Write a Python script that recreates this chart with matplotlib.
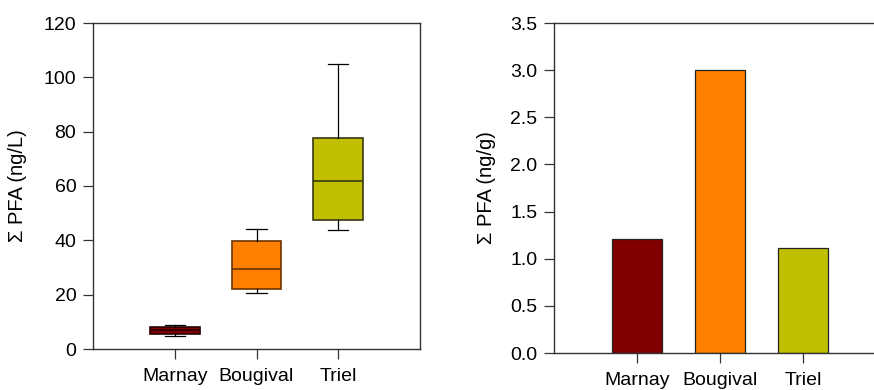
import matplotlib
matplotlib.use("Agg")
import matplotlib.pyplot as plt

plt.rcParams['font.family'] = ['Liberation Sans', 'DejaVu Sans']

sites = ["Marnay", "Bougival", "Triel"]
colors = ["#800000", "#FF8000", "#C0C000"]
edge_colors = ["#2a0000", "#6a3500", "#3a3a14"]

# box plot stats (ng/L)
whislo = [4.9, 20.5, 43.8]
q1 = [5.4, 22.0, 47.4]
med = [6.9, 29.6, 61.8]
q3 = [8.1, 39.9, 77.8]
whishi = [8.8, 44.0, 104.9]

# bar values (ng/g)
sediment = [1.21, 3.0, 1.11]

yticks_left = [0, 20, 40, 60, 80, 100, 120]
yticks_right = [0.0, 0.5, 1.0, 1.5, 2.0, 2.5, 3.0, 3.5]

W, H = 874, 390
fig = plt.figure(figsize=(W / 100, H / 100), dpi=100)

ax1 = fig.add_axes([93 / W, 1 - 349 / H, (420 - 93) / W, (349 - 23) / H])
ax2 = fig.add_axes([554 / W, 1 - 353 / H, (886 - 554) / W, (353 - 23) / H])

stats = []
for i, s in enumerate(sites):
    stats.append(dict(label=s, whislo=whislo[i], q1=q1[i], med=med[i],
                      q3=q3[i], whishi=whishi[i], fliers=[]))
pos = [1, 2, 3]
bp = ax1.bxp(stats, positions=pos, widths=0.61, patch_artist=True,
             showfliers=False,
             whiskerprops=dict(color="black", lw=0.9),
             capprops=dict(color="black", lw=0.9),
             capwidths=0.245)
for i, b in enumerate(bp['boxes']):
    b.set_facecolor(colors[i])
    b.set_edgecolor(edge_colors[i])
    b.set_linewidth(1.2)
for i, m in enumerate(bp['medians']):
    m.set_color(edge_colors[i])
    m.set_linewidth(1.2)

ax1.set_xlim(0, 4)
ax1.set_ylim(0, 120)
ax1.set_yticks(yticks_left)
ax1.set_xticks(pos)
ax1.set_xticklabels(sites)
ax1.set_ylabel("Σ PFA (ng/L)", fontsize=14.5, labelpad=12)

ax2.bar(pos, sediment, width=0.61, color=colors, edgecolor="#222222", linewidth=0.9)
ax2.set_xlim(0, 4)
ax2.set_ylim(0, 3.5)
ax2.set_yticks(yticks_right)
ax2.set_yticklabels([f"{v:.1f}" for v in yticks_right])
ax2.set_xticks(pos)
ax2.set_xticklabels(sites)
ax2.set_ylabel("Σ PFA (ng/g)", fontsize=14.5, labelpad=10)
ax2.spines['right'].set_visible(False)

for ax in (ax1, ax2):
    for sp in ax.spines.values():
        sp.set_color("#333333")
        sp.set_linewidth(1.0)
    ax.tick_params(axis='y', direction='out', length=7, width=0.9, pad=5,
                   labelsize=14, color="#333333")
    ax.tick_params(axis='x', direction='out', length=7, width=0.9, pad=7,
                   labelsize=14, color="#333333")

fig.savefig("out.png", dpi=100)
